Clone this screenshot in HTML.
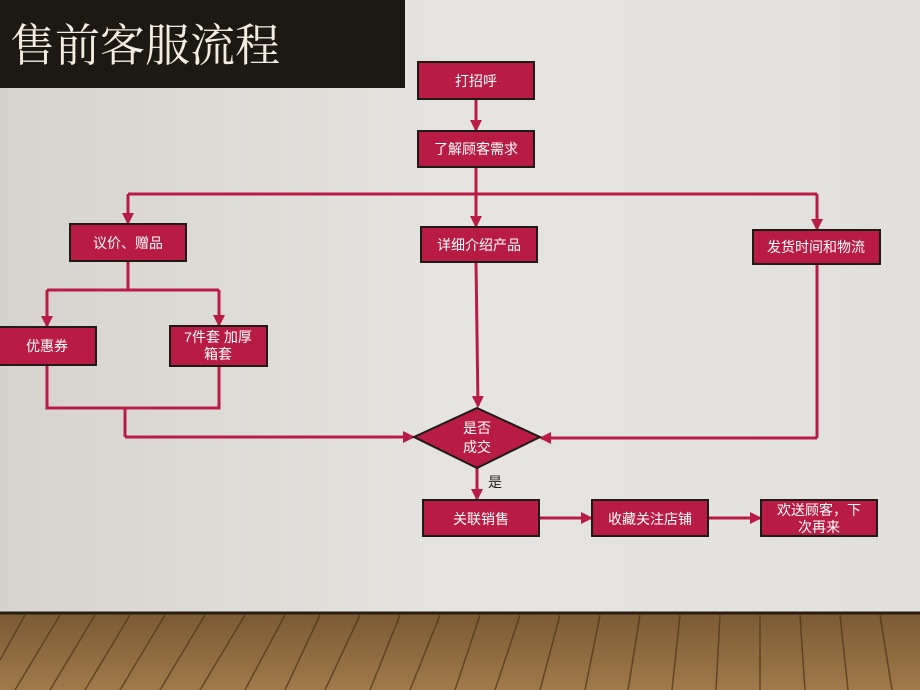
<!DOCTYPE html>
<html><head><meta charset="utf-8"><style>
html,body{margin:0;padding:0;width:920px;height:690px;overflow:hidden}
body{background:linear-gradient(90deg,#d6d3ce 0%,#e6e4e0 50%,#e2e0dc 100%)}
text{font-family:"Liberation Sans","Noto Sans CJK SC",sans-serif;fill:#fff;font-size:14px}
</style></head><body>
<svg width="920" height="690" viewBox="0 0 920 690" xmlns="http://www.w3.org/2000/svg">
<defs>
<marker id="a" markerWidth="12" markerHeight="12" refX="10" refY="6" orient="auto" markerUnits="userSpaceOnUse"><path d="M0,0 L12,6 L0,12 z" fill="#b81c44"/></marker>
<linearGradient id="wood" x1="0" y1="0" x2="0" y2="1"><stop offset="0" stop-color="#7a5a34"/><stop offset="1" stop-color="#a07a4a"/></linearGradient>
</defs>
<rect x="0" y="0" width="405" height="88" fill="#1c1812"/>
<text x="10" y="61" style="font-family:'Noto Serif CJK SC',serif;font-size:45px;fill:#f3ece0">售前客服流程</text>
<rect x="0" y="613" width="920" height="77" fill="url(#wood)"/>
<line x1="0" y1="613" x2="920" y2="613" stroke="#2a1e10" stroke-width="3"/>
<g stroke="#4a3218" stroke-width="1.5" opacity="0.7">
<path d="M25 615 L0 660 M60 615 L15 690 M95 615 L50 690 M130 615 L85 690 M165 615 L120 690 M205 615 L160 690 M245 615 L200 690 M285 615 L245 690 M320 615 L285 690 M360 615 L325 690 M400 615 L370 690 M440 615 L410 690 M480 615 L455 690 M520 615 L495 690 M560 615 L540 690 M600 615 L585 690 M640 615 L628 690 M680 615 L672 690 M720 615 L716 690 M760 615 L760 690 M800 615 L805 690 M840 615 L848 690 M880 615 L892 690"/>
</g>
<g stroke="#b81c44" stroke-width="3" fill="none">
<line x1="476" y1="99" x2="476" y2="130" marker-end="url(#a)"/>
<path d="M476 167 V194"/>
<path d="M128 194 H817"/>
<line x1="128" y1="194" x2="128" y2="223" marker-end="url(#a)"/>
<line x1="476" y1="194" x2="476" y2="226" marker-end="url(#a)"/>
<line x1="817" y1="194" x2="817" y2="229" marker-end="url(#a)"/>
<path d="M128 261 V290 M47 290 H219"/>
<line x1="47" y1="290" x2="47" y2="326" marker-end="url(#a)"/>
<line x1="219" y1="290" x2="219" y2="325" marker-end="url(#a)"/>
<path d="M47 365 V408 H219 V366 M125 408 V437"/>
<line x1="125" y1="437" x2="413" y2="437" marker-end="url(#a)"/>
<line x1="476" y1="262" x2="478" y2="406" marker-end="url(#a)"/>
<path d="M817 264 V438"/>
<line x1="817" y1="438" x2="541" y2="438" marker-end="url(#a)"/>
<line x1="477" y1="468" x2="477" y2="499" marker-end="url(#a)"/>
<line x1="539" y1="518" x2="591" y2="518" marker-end="url(#a)"/>
<line x1="708" y1="518" x2="760" y2="518" marker-end="url(#a)"/>
</g>
<g fill="#b81c44" stroke="#1e1a14" stroke-width="2">
<rect x="418" y="62" width="116" height="37"/>
<rect x="418" y="131" width="116" height="36"/>
<rect x="70" y="224" width="116" height="37"/>
<rect x="421" y="227" width="116" height="35"/>
<rect x="753" y="230" width="127" height="34"/>
<rect x="-2" y="327" width="98" height="38"/>
<rect x="170" y="326" width="97" height="40"/>
<polygon points="477,408 540,437 477,468 414,437"/>
<rect x="423" y="500" width="116" height="36"/>
<rect x="592" y="500" width="116" height="36"/>
<rect x="761" y="500" width="116" height="36"/>
</g>
<g text-anchor="middle">
<text x="476" y="86">打招呼</text>
<text x="476" y="154">了解顾客需求</text>
<text x="128" y="248">议价、赠品</text>
<text x="479" y="250">详细介绍产品</text>
<text x="816" y="252">发货时间和物流</text>
<text x="47" y="351">优惠券</text>
<text x="218" y="342">7件套 加厚</text>
<text x="218" y="359">箱套</text>
<text x="477" y="433">是否</text>
<text x="477" y="452">成交</text>
<text x="481" y="524">关联销售</text>
<text x="650" y="524">收藏关注店铺</text>
<text x="819" y="515">欢送顾客，下</text>
<text x="819" y="532">次再来</text>
<text x="495" y="487" style="fill:#222">是</text>
</g>
</svg>
</body></html>
